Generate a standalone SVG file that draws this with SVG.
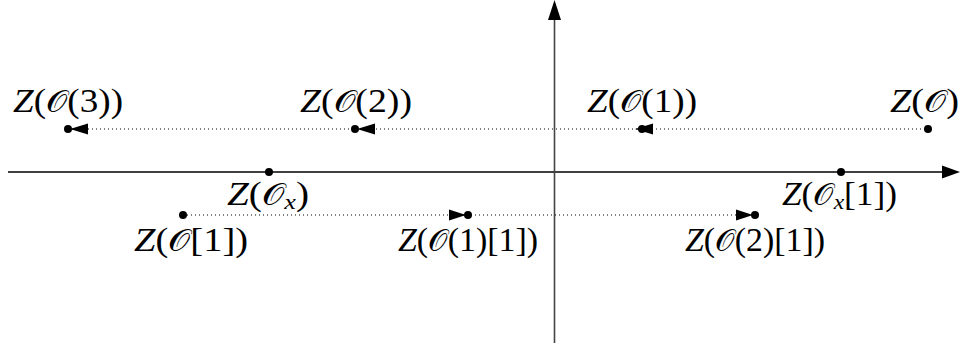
<svg xmlns="http://www.w3.org/2000/svg" width="961" height="347" viewBox="0 0 961 347">
<style>
.lbl{font-family:"Liberation Serif","Times New Roman",serif;font-size:33px;fill:#000}
.z{font-style:italic}
.o{font-family:"DejaVu Serif","DejaVu Sans",serif;font-size:30px}
.sub{font-style:italic;font-size:22px}
.dot{fill:#000}
.dotted{stroke:#000;stroke-width:1;stroke-dasharray:1 3;fill:none}
.axis{stroke:#000;stroke-width:1.6;fill:none}
.vaxis{stroke:#444;stroke-width:1.6;fill:none}
.head{fill:#000}
</style>
<rect width="961" height="347" fill="#fff"/>
<g id="connectors">
<line class="axis" x1="8" y1="172" x2="944" y2="172"/>
<polygon class="head" points="960,172 942,165.5 942,178.5"/>
<line class="vaxis" x1="554.5" y1="343" x2="554.5" y2="18"/>
<polygon class="head" points="554.5,0 548,20 561,20"/>
<line class="dotted" x1="68" y1="129" x2="928" y2="129"/>
<line class="dotted" x1="183" y1="215" x2="755" y2="215"/>
<polygon class="head" points="70,129 88,123.5 88,134.5"/>
<polygon class="head" points="357,129 375,123.5 375,134.5"/>
<polygon class="head" points="635,129 653,123.5 653,134.5"/>
<polygon class="head" points="466,215 449,209.5 449,220.5"/>
<polygon class="head" points="753,215 736,209.5 736,220.5"/>
</g>
<g id="n_O"><circle class="dot" cx="928" cy="129" r="4"/><text class="lbl" x="890" y="112" textLength="69" lengthAdjust="spacingAndGlyphs"><tspan class="z">Z</tspan>(<tspan class="o">𝒪</tspan>)</text></g>
<g id="n_O1"><circle class="dot" cx="642" cy="129" r="4"/><text class="lbl" x="587" y="112" textLength="110" lengthAdjust="spacingAndGlyphs"><tspan class="z">Z</tspan>(<tspan class="o">𝒪</tspan>(1))</text></g>
<g id="n_O2"><circle class="dot" cx="355" cy="129" r="4"/><text class="lbl" x="300" y="112" textLength="112" lengthAdjust="spacingAndGlyphs"><tspan class="z">Z</tspan>(<tspan class="o">𝒪</tspan>(2))</text></g>
<g id="n_O3"><circle class="dot" cx="68" cy="129" r="4"/><text class="lbl" x="13" y="112" textLength="110" lengthAdjust="spacingAndGlyphs"><tspan class="z">Z</tspan>(<tspan class="o">𝒪</tspan>(3))</text></g>
<g id="n_Ox"><circle class="dot" cx="269" cy="172" r="4"/><text class="lbl" x="227" y="205" textLength="82" lengthAdjust="spacingAndGlyphs"><tspan class="z">Z</tspan>(<tspan class="o">𝒪</tspan><tspan class="sub" dy="4">x</tspan><tspan dy="-4">)</tspan></text></g>
<g id="n_Ox1"><circle class="dot" cx="841" cy="172" r="4"/><text class="lbl" x="782" y="205" textLength="115" lengthAdjust="spacingAndGlyphs"><tspan class="z">Z</tspan>(<tspan class="o">𝒪</tspan><tspan class="sub" dy="4">x</tspan><tspan dy="-4">[1])</tspan></text></g>
<g id="n_O_1"><circle class="dot" cx="183" cy="215" r="4"/><text class="lbl" x="134" y="251" textLength="114" lengthAdjust="spacingAndGlyphs"><tspan class="z">Z</tspan>(<tspan class="o">𝒪</tspan>[1])</text></g>
<g id="n_O1_1"><circle class="dot" cx="468" cy="215" r="4"/><text class="lbl" x="398" y="251" textLength="140" lengthAdjust="spacingAndGlyphs"><tspan class="z">Z</tspan>(<tspan class="o">𝒪</tspan>(1)[1])</text></g>
<g id="n_O2_1"><circle class="dot" cx="755" cy="215" r="4"/><text class="lbl" x="685" y="251" textLength="140" lengthAdjust="spacingAndGlyphs"><tspan class="z">Z</tspan>(<tspan class="o">𝒪</tspan>(2)[1])</text></g>
</svg>
